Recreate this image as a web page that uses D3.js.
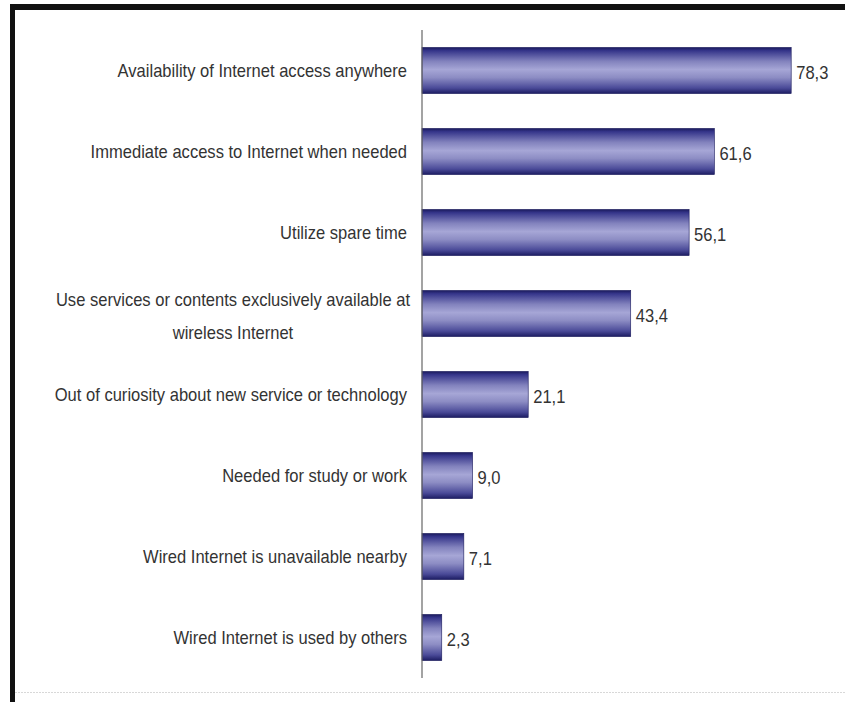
<!DOCTYPE html>
<html>
<head>
<meta charset="utf-8">
<script src="https://cdn.jsdelivr.net/npm/d3@7"></script>
<style>
  html, body { margin: 0; padding: 0; background: #fff; }
  #chart { width: 845px; height: 702px; }
</style>
</head>
<body>
<div id="chart"></div>
<script>
var width = 845,
    height = 702;

// data
var categories = [
    "Availability of Internet access anywhere",
    "Immediate access to Internet when needed",
    "Utilize spare time",
    "Use services or contents exclusively available at|wireless Internet",
    "Out of curiosity about new service or technology",
    "Needed for study or work",
    "Wired Internet is unavailable nearby",
    "Wired Internet is used by others"
];
var values = [78.3, 61.6, 56.1, 43.4, 21.1, 9.0, 7.1, 2.3];
var valueLabels = ["78,3", "61,6", "56,1", "43,4", "21,1", "9,0", "7,1", "2,3"];

var svg = d3.select("#chart").append("svg")
    .attr("width", width)
    .attr("height", height);

// frame of the scanned picture
svg.append("rect").attr("x", 10).attr("y", 4).attr("width", 835).attr("height", 6).style("fill", "#111");
svg.append("rect").attr("x", 10).attr("y", 4).attr("width", 5).attr("height", 698).style("fill", "#111");
svg.append("line")
    .attr("x1", 15).attr("x2", 845).attr("y1", 692.5).attr("y2", 692.5)
    .style("stroke", "#d8d8d8").style("stroke-dasharray", "2,1");

var defs = svg.append("defs");
var grad = defs.append("linearGradient")
    .attr("id", "barGrad")
    .attr("x1", 0).attr("x2", 0).attr("y1", 0).attr("y2", 1);
[["0%", "#1a1a5c"], ["7%", "#35358a"], ["30%", "#8282bd"], ["48%", "#a6a6d6"],
 ["65%", "#8d8dc4"], ["88%", "#4a4a98"], ["100%", "#1c1c62"]].forEach(function (s) {
    grad.append("stop").attr("offset", s[0]).attr("stop-color", s[1]);
});

var x = d3.scaleLinear()
    .domain([-2, 80])
    .range([422, 799]);

var y = d3.scaleBand()
    .domain(categories)
    .range([30, 678])
    .paddingInner(0.43)
    .paddingOuter(0.215);

// bars
svg.selectAll("rect.bar")
    .data(values)
    .enter().append("rect")
    .attr("class", "bar")
    .attr("x", x(-2))
    .attr("y", function (d, i) { return y(categories[i]); })
    .attr("width", function (d) { return x(d) - x(-2); })
    .attr("height", y.bandwidth())
    .style("fill", "url(#barGrad)")
    .style("stroke", "#1a1a5c")
    .style("stroke-width", 0.6);

// axis line
svg.append("line")
    .attr("x1", x(-2)).attr("x2", x(-2))
    .attr("y1", y.range()[0]).attr("y2", y.range()[1])
    .style("stroke", "#666")
    .style("stroke-width", 1.2);

var font = "'Liberation Sans', Arial, sans-serif";
var sx = 0.92;

function label(tx, ty, anchor, txt) {
    return svg.append("text")
        .attr("transform", "translate(" + tx + "," + ty + ") scale(" + sx + ",1)")
        .attr("dy", ".35em")
        .attr("text-anchor", anchor)
        .style("font-family", font)
        .style("font-size", "18px")
        .style("fill", "#333")
        .text(txt);
}

// category labels
categories.forEach(function (c, i) {
    var cy = y(c) + y.bandwidth() / 2;
    var lines = c.split("|");
    if (lines.length == 1) {
        label(407, cy, "end", c);
    } else {
        var t1 = label(410, cy - 14, "end", lines[0]);
        var w = t1.node().getComputedTextLength() * sx;
        label(410 - w / 2, cy + 19, "middle", lines[1]);
    }
});

// value labels
values.forEach(function (d, i) {
    label(x(d) + 5, y(categories[i]) + y.bandwidth() / 2 + 2, "start", valueLabels[i]);
});
</script>
</body>
</html>
